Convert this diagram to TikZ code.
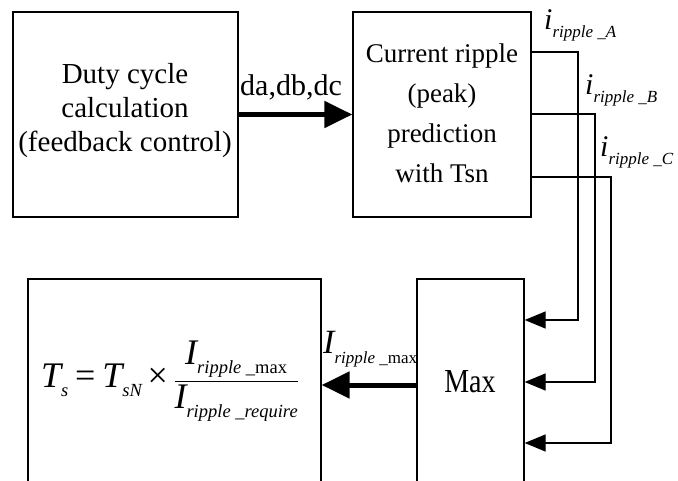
\documentclass[tikz,border=0pt]{standalone}
\usepackage{amsmath}
\usepackage{graphicx}
\usepackage{fontspec}
\setmainfont{Liberation Serif}
\usetikzlibrary{arrows.meta}
% big italic letter with a lowered small subscript
\newcommand{\sig}[4]{{\fontsize{#1}{#1}\selectfont\itshape #2}\raisebox{-#3pt}{\fontsize{17}{17}\selectfont\itshape #4}}
\newcommand{\fsub}[2]{\raisebox{-#1pt}{\fontsize{18.5}{18.5}\selectfont\itshape #2}}
\tikzset{
  blk/.style={draw, line width=1.3pt, inner sep=0pt},
  thickarr/.style={line width=5pt, -{Triangle[length=28pt,width=26pt]}},
  thinarr/.style={line width=1.3pt, -{Triangle[length=21pt,width=17pt]}},
  lbl/.style={font=\fontsize{29}{34}\selectfont, align=center, inner sep=0pt},
  lblB/.style={font=\fontsize{27}{40}\selectfont, align=center, inner sep=0pt},
  sig/.style={inner sep=0pt},
}
\begin{document}
\begin{tikzpicture}[x=1pt,y=-1pt]
\useasboundingbox (0,0) rectangle (678,481);
\clip (0,0) rectangle (678,481);
% boxes
\node[blk, minimum width=225pt, minimum height=205pt] (b1) at (125.5,114.5) {};
\node[blk, minimum width=178pt, minimum height=205pt] (b2) at (442,114.5) {};
\node[blk, minimum width=293pt, minimum height=321pt] (b3) at (174.5,439.5) {};
\node[blk, minimum width=107pt, minimum height=321pt] (b4) at (470.5,439.5) {};
% box texts
\node[lbl] (t1) at (125,111) {Duty cycle\\calculation\\(feedback control)};
\node[lblB] (t2) at (442,113) {Current ripple\\(peak)\\prediction\\with Tsn};
\node[lbl, font=\fontsize{28}{34}\selectfont] (t4) at (470,382) {\scalebox{1}[1.2]{Max}};
\node[sig, font=\fontsize{36}{40}\selectfont] (t3) at (170,381)
  {$\displaystyle \text{\itshape T\fsub{9}{s}} \mathrel{\text{=}} \text{\itshape T\fsub{9}{sN}}\mathbin{\text{×}}\frac{\text{\itshape I\fsub{9}{ripple \_\upshape max}}}{\text{\itshape I\fsub{9}{ripple \_require}}}$};
% duty arrow
\draw[thickarr] (b1.east) -- (b2.west);
\node[lbl, font=\fontsize{30}{34}\selectfont, anchor=base] (dlab) at (291,96) {da,db,dc};
% ripple outputs
\coordinate (ka) at (578,52);
\coordinate (kb) at (595,114);
\coordinate (kc) at (611,177);
\coordinate (ya) at (0,320);
\coordinate (yb) at (0,382);
\coordinate (yc) at (0,443);
\draw[thinarr] (b2.east |- ka) -- (ka) |- (b4.east |- ya);
\draw[thinarr] (b2.east |- kb) -- (kb) |- (b4.east |- yb);
\draw[thinarr] (b2.east |- kc) -- (kc) |- (b4.east |- yc);
\node[sig, anchor=base west] (la) at (544,30) {\sig{30}{i}{8}{ripple \_A}};
\node[sig, anchor=base west] (lb) at (585,95) {\sig{30}{i}{8}{ripple \_B}};
\node[sig, anchor=base west] (lc) at (600,157) {\sig{30}{i}{8}{ripple \_C}};
% max output
\coordinate (ym) at (0,385);
\draw[thickarr] (b4.west |- ym) -- (b3.east |- ym);
\node[sig, anchor=base west] (lm) at (323,353) {\sig{34}{I}{10}{ripple \_\upshape max}};
\end{tikzpicture}
\end{document}
